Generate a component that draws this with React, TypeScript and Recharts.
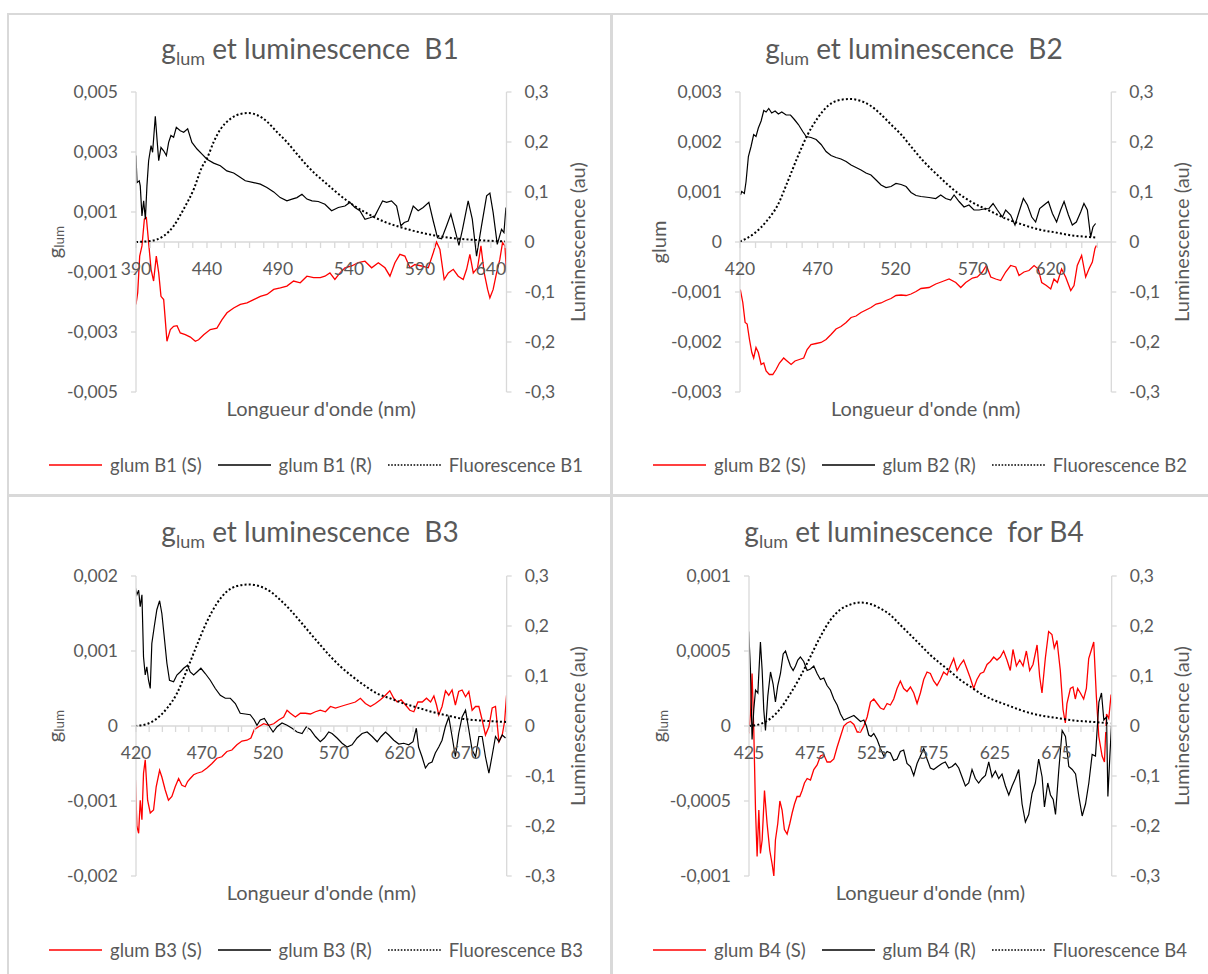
import React from 'react';
import { LineChart, Line, XAxis, YAxis, ReferenceLine, Legend } from 'recharts';

type Pt = [number, number];

// ---------- B1 ----------
const B1_X_TICKS = [390, 400, 410, 420, 430, 440, 450, 460, 470, 480, 490, 500, 510, 520, 530, 540, 550, 560, 570, 580, 590, 600, 610, 620, 630, 640, 650];
const B1_X_LABELS = [390, 440, 490, 540, 590, 640];
const B1_Y_TICKS = [-0.005, -0.003, -0.001, 0.001, 0.003, 0.005];
const B1_S: Pt[] = [[390,-0.00208],[391.2,-0.00169],[392.6,-0.00047],[394.2,-0.00013],[395.9,0.00076],[397.3,0.00081],[398.9,-0.00002],[400.6,-0.00091],[402.4,-0.0013],[404.3,-0.00047],[406,-0.00103],[407.6,-0.00181],[409.5,-0.00192],[411.8,-0.00331],[414.2,-0.00292],[416.5,-0.00281],[418.9,-0.00279],[421.2,-0.00303],[424.7,-0.00309],[428.3,-0.00317],[431.8,-0.00331],[434.1,-0.00326],[437.7,-0.00309],[442.3,-0.00292],[447,-0.00287],[450.6,-0.00259],[454.1,-0.00236],[458.8,-0.0022],[463.5,-0.00208],[468.2,-0.00203],[472.9,-0.00192],[477.6,-0.00181],[482.3,-0.00175],[487,-0.00158],[491.7,-0.00153],[496.3,-0.00147],[501,-0.0013],[505.7,-0.00136],[510.4,-0.00114],[515.1,-0.00119],[519.8,-0.00119],[523.1,-0.00114],[526.6,-0.00103],[530.1,-0.00125],[533.7,-0.00103],[537.2,-0.00086],[541.9,-0.0008],[546.6,-0.00069],[551.3,-0.00064],[556,-0.00086],[560.7,-0.00069],[565.4,-0.00086],[568.9,-0.00114],[572.4,-0.00069],[575.9,-0.00041],[579.4,-0.00047],[583,-0.00086],[586.5,-0.00075],[591.2,-0.0008],[595.9,-0.00086],[599.4,-0.00036],[601.7,0],[604.1,-0.00025],[607.1,-0.00125],[610,-0.00103],[613.5,-0.00091],[617,-0.00114],[620.5,-0.00125],[622.9,-0.00091],[625.2,-0.00041],[627.6,-0.00103],[630.6,-0.00086],[633,-0.00013],[635.3,-0.00103],[637.7,-0.00158],[639.3,-0.00186],[641.6,-0.00158],[644,-0.00103],[646.3,-0.00058],[648.2,-0.00002],[649.9,-0.00013],[651,-0.00103]];
const B1_R: Pt[] = [[390,0.00288],[390.7,0.00198],[392.3,0.00204],[393,0.00187],[394.2,0.00087],[395.4,0.00137],[396.6,0.00076],[397.7,0.00187],[398.9,0.00271],[400.6,0.00321],[401.7,0.00299],[403.6,0.00419],[404.8,0.00343],[406,0.00271],[407.6,0.00315],[409.5,0.00304],[411.4,0.00288],[413,0.00332],[414.6,0.00355],[416.5,0.00349],[418.4,0.00382],[421.2,0.00371],[423.6,0.00366],[426.4,0.00377],[429.4,0.00332],[433,0.0031],[436.5,0.00293],[440,0.00276],[444.7,0.00263],[449.4,0.00254],[454,0.00237],[458.8,0.0023],[462.3,0.00219],[467,0.00204],[472.9,0.00198],[477.6,0.00193],[482.2,0.00182],[487,0.00167],[491.6,0.00148],[496.3,0.00137],[499.9,0.00143],[503.4,0.00148],[506.9,0.00159],[510.4,0.00143],[514,0.00137],[518.4,0.00135],[523.1,0.00126],[527.8,0.00104],[532.5,0.00115],[537.2,0.0012],[540.7,0.00132],[544.2,0.00115],[547.7,0.00104],[551.3,0.00076],[554.8,0.00081],[558.3,0.00087],[560.7,0.00109],[563.7,0.00137],[566.5,0.00132],[570,0.00137],[573.6,0.0012],[576.6,0.00054],[579,0.00065],[581.8,0.0007],[585.3,0.0012],[588.8,0.00104],[592.3,0.00115],[596.3,0.00132],[599.4,0.0007],[602.4,0.00014],[605.3,0.00011],[608.8,0.00054],[611.8,0.00093],[614.6,0.00042],[617.5,-0.00011],[620,0.00042],[624,0.00137],[626.9,0.00076],[629.9,-0.00047],[633.4,0.00054],[637,0.00154],[639.3,0.00163],[641.6,0.00098],[644.5,-0.00008],[647.5,0.00042],[649.2,0.00031],[650.6,0.00115]];
const B1_F: Pt[] = [[390,0],[400,0.002],[409.5,0.012],[416.5,0.032],[423.6,0.066],[430.6,0.105],[436.5,0.15],[440,0.167],[444.7,0.2],[449.4,0.225],[456.4,0.246],[463.5,0.256],[469.3,0.258],[475.2,0.254],[482.2,0.241],[489.3,0.22],[496.3,0.2],[503.4,0.176],[510.4,0.153],[517.5,0.133],[523.3,0.119],[530.1,0.102],[541.9,0.076],[553.6,0.056],[565.4,0.04],[577.1,0.029],[588.8,0.02],[600.6,0.013],[612.3,0.008],[624,0.005],[635.8,0.003],[649.9,0.001]];

// ---------- B2 ----------
const B2_X_TICKS = [420, 430, 440, 450, 460, 470, 480, 490, 500, 510, 520, 530, 540, 550, 560, 570, 580, 590, 600, 610, 620, 630, 640, 650];
const B2_X_LABELS = [420, 470, 520, 570, 620];
const B2_Y_TICKS = [-0.003, -0.002, -0.001, 0, 0.001, 0.002, 0.003];
const B2_S: Pt[] = [[420.2,-0.00095],[421.8,-0.00121],[423.3,-0.00161],[424.6,-0.00164],[426.1,-0.00195],[427.6,-0.00221],[428.8,-0.00232],[430.3,-0.00211],[431.8,-0.00221],[433.6,-0.00245],[435.3,-0.00242],[436.8,-0.00258],[438.9,-0.00265],[441.1,-0.00265],[443.2,-0.00255],[445.4,-0.00242],[448.1,-0.00232],[450.3,-0.00238],[452.9,-0.00245],[455.4,-0.00238],[458.2,-0.00235],[461,-0.00232],[463.2,-0.00215],[465.7,-0.00205],[469,-0.00203],[472.2,-0.00201],[475.4,-0.00195],[478.6,-0.00185],[481.8,-0.00174],[485,-0.00169],[488.3,-0.00161],[491.5,-0.00151],[494.7,-0.00148],[497.9,-0.00141],[501.1,-0.00136],[504.3,-0.00131],[507.6,-0.00124],[510.8,-0.00122],[514,-0.00117],[517.2,-0.00113],[520.4,-0.00107],[523.7,-0.00106],[526.9,-0.00107],[530.1,-0.00104],[533.3,-0.00099],[536.5,-0.00093],[541.7,-0.00091],[546,-0.00084],[550.3,-0.00079],[554.6,-0.00074],[558.9,-0.00081],[562.1,-0.00091],[565.3,-0.00081],[569.6,-0.00072],[572.8,-0.0007],[576,-0.0006],[578.6,-0.00047],[581.4,-0.0007],[584.6,-0.00074],[587.8,-0.00077],[591,-0.0006],[594.2,-0.00047],[597.5,-0.0005],[599.6,-0.00067],[602.8,-0.0006],[606,-0.00057],[609.3,-0.00047],[612,-0.00054],[614.2,-0.00081],[617.2,-0.00087],[620,-0.00094],[622.1,-0.00074],[624.3,-0.00081],[627,-0.00054],[629.6,-0.0007],[632.9,-0.00097],[635,-0.00087],[637.1,-0.00047],[639.9,-0.00027],[642.5,-0.0007],[644.6,-0.00054],[646.8,-0.0004],[648.5,-0.00013],[649.4,-0.00007]];
const B2_R: Pt[] = [[420.3,0.00094],[421.1,0.00101],[422.8,0.00097],[423.9,0.00121],[425.4,0.00171],[427.1,0.00191],[428.8,0.00215],[430.3,0.00211],[431.8,0.00228],[433.6,0.00242],[435.3,0.00263],[436.8,0.0026],[438.5,0.00267],[440.4,0.00258],[442.6,0.00262],[444.7,0.00256],[446.9,0.0026],[449.7,0.00254],[452.5,0.00254],[455,0.00245],[457.6,0.00235],[460.4,0.00221],[462.6,0.00211],[465.7,0.00209],[469,0.00205],[472.2,0.00195],[475.4,0.00181],[478.6,0.00173],[481.8,0.00169],[485,0.00166],[488.3,0.00161],[491.5,0.00154],[494.7,0.00149],[497.9,0.00144],[501.1,0.00138],[504.3,0.00134],[507.6,0.00124],[510.8,0.00114],[514,0.00109],[517.2,0.00111],[520.4,0.00117],[523.7,0.00115],[526.9,0.00111],[530.1,0.00099],[533.3,0.00093],[536.5,0.00091],[541.7,0.00089],[546,0.00087],[549.2,0.00094],[552.4,0.00087],[555.6,0.00084],[557.8,0.00094],[561,0.00081],[564.2,0.0007],[567.4,0.00074],[570.6,0.00064],[573.9,0.00064],[577.1,0.00066],[580.3,0.00067],[582.9,0.00077],[585.7,0.00064],[588.9,0.0005],[591,0.00064],[594.2,0.00054],[597,0.00034],[599.6,0.0006],[602.4,0.00087],[605,0.00074],[607.8,0.0005],[610.3,0.0004],[612.9,0.00067],[615.7,0.00074],[618.5,0.00081],[621.1,0.00057],[623.8,0.0004],[626.4,0.00064],[628.6,0.00081],[631.4,0.00054],[633.9,0.00034],[636.5,0.0004],[639.3,0.0006],[641.4,0.00077],[643.6,0.00064],[645.7,0.0001],[647.2,0.0003],[648.9,0.00037]];
const B2_F: Pt[] = [[420,0.001],[429.1,0.017],[437.7,0.044],[444.3,0.074],[450.7,0.121],[457.2,0.171],[463.6,0.215],[470,0.248],[476.5,0.272],[482.9,0.283],[490.4,0.286],[497.9,0.282],[504.3,0.272],[510.8,0.255],[517.2,0.235],[523.7,0.215],[530.1,0.191],[537.4,0.164],[548.1,0.131],[558.9,0.101],[569.6,0.079],[580.3,0.063],[591,0.047],[601.7,0.035],[612.5,0.025],[623.2,0.019],[633.9,0.013],[644.6,0.01],[648.9,0.009]];

// ---------- B3 ----------
const B3_X_TICKS = [420, 430, 440, 450, 460, 470, 480, 490, 500, 510, 520, 530, 540, 550, 560, 570, 580, 590, 600, 610, 620, 630, 640, 650, 660, 670, 680, 690, 700];
const B3_X_LABELS = [420, 470, 520, 570, 620, 670];
const B3_Y_TICKS = [-0.002, -0.001, 0, 0.001, 0.002];
const B3_S: Pt[] = [[419.6,-0.00072],[420.7,-0.00134],[422,-0.00143],[423.2,-0.00099],[424.5,-0.00125],[425.7,-0.00063],[427,-0.00045],[428.8,-0.00099],[430.8,-0.00116],[433.3,-0.00112],[435.3,-0.00081],[437.9,-0.00059],[439.6,-0.00068],[442.1,-0.00085],[444.6,-0.00099],[447.2,-0.00094],[449.7,-0.00081],[452.3,-0.0007],[454.8,-0.00079],[457.3,-0.00081],[459.1,-0.00074],[461.1,-0.0007],[463.7,-0.00065],[466.2,-0.00063],[470,-0.00061],[473.8,-0.00056],[477.6,-0.0005],[481.3,-0.00043],[485.1,-0.00041],[488.9,-0.00034],[492.7,-0.00032],[496.5,-0.00025],[500.3,-0.0002],[504.1,-0.00019],[507.1,-0.00016],[509.6,-0.00005],[512.9,-0.00001],[516.8,0.00003],[520.5,0.00001],[524.4,0.00003],[528.1,0.00008],[531.9,0.00012],[534.5,0.00021],[537,0.00017],[540.8,0.00012],[544.6,0.00017],[548.4,0.00017],[552.2,0.00016],[556,0.00019],[559.7,0.00021],[563.6,0.00019],[567.4,0.00026],[571.2,0.00024],[575,0.00026],[578.7,0.00028],[582.6,0.0003],[586.3,0.00032],[590.1,0.00037],[593.9,0.0003],[597.7,0.00026],[601.5,0.0003],[605.3,0.00035],[609.1,0.00041],[612.4,0.00047],[615.4,0.00037],[618,0.00032],[621,0.00035],[624.3,0.00028],[627.6,0.00021],[630.6,0.00019],[633.7,0.00032],[637,0.00032],[640.2,0.00037],[643.3,0.00032],[645.8,0.0004],[647.8,0.00028],[649.5,0.00015],[652,0.00026],[654.6,0.00047],[657.1,0.00041],[659.6,0.00048],[662.1,0.00028],[664.6,0.00046],[667.2,0.00048],[669.8,0.00039],[672.3,0.00046],[674.8,0.00021],[677.4,0.00026],[679.9,0.00026],[682.4,0.00008],[684.9,-0.00012],[687.5,-0.00001],[690,0.00024],[692.5,0.00026],[695.1,-0.00021],[697.6,-0.00012],[699.4,0.00006],[700.9,0.00041]];
const B3_R: Pt[] = [[419.6,0.00184],[420.7,0.00175],[422,0.00181],[423.2,0.00159],[424.5,0.00175],[425.7,0.00092],[427,0.00068],[428.2,0.00079],[429.5,0.00061],[430.8,0.0005],[432,0.0011],[433.8,0.00132],[435.8,0.00155],[437.9,0.00167],[439.6,0.0015],[441.4,0.00119],[443.4,0.00084],[445.4,0.00061],[448.5,0.00059],[451,0.00068],[453.5,0.00072],[456.1,0.00077],[459.1,0.00081],[461.1,0.00072],[463.7,0.00068],[466.2,0.00072],[469.2,0.00077],[472.5,0.0007],[476.3,0.00061],[480.1,0.0005],[483.9,0.00041],[487.7,0.00037],[491.5,0.00037],[495.3,0.0003],[499,0.00017],[502.8,0.00016],[506.6,0.00015],[509.6,0.00008],[511.7,0.00001],[514.2,0.00008],[517.3,0.0001],[520.5,0.00001],[523.9,-0.00008],[526.9,-0.00001],[530.7,0.00004],[534.5,0.00001],[538.3,-0.00003],[542.1,-0.00008],[545.9,-0.0001],[549.1,-0.00001],[552.2,-0.00005],[556,-0.00014],[559.7,-0.00021],[562.8,-0.00016],[566.1,-0.00008],[568.6,-0.0001],[572.4,-0.00016],[576.2,-0.00023],[580,-0.00028],[583.8,-0.00025],[587.6,-0.00016],[591.4,-0.0001],[595.2,-0.00008],[599,-0.00014],[602.8,-0.00021],[605.8,-0.00014],[609.1,-0.00008],[611.6,-0.00012],[615.4,-0.00019],[619.2,-0.00024],[622.9,-0.00023],[626.7,-0.00025],[630,-0.00021],[632.5,-0.00003],[634.2,-0.00028],[636.8,-0.00041],[639.4,-0.00056],[641.9,-0.0005],[644.4,-0.00048],[646.9,-0.00036],[649.5,-0.00028],[652,-0.00019],[654.5,-0.00001],[657.1,0.00012],[659.6,-0.00014],[662.1,-0.00041],[664.6,-0.0001],[667.2,0.00012],[669.8,0.00021],[672.3,-0.00005],[674.8,-0.00032],[677.4,-0.00041],[679.9,-0.00014],[682.4,-0.00014],[684.9,-0.00041],[687.5,-0.00063],[690,-0.00039],[692.5,-0.00014],[695.1,-0.00021],[697.6,-0.00012],[700.1,-0.00016]];
const B3_F: Pt[] = [[419.4,0],[428.2,0.004],[435.8,0.015],[443.4,0.035],[451,0.065],[458.6,0.112],[466.2,0.162],[473.8,0.209],[481.3,0.245],[488.9,0.269],[496.5,0.28],[505.4,0.283],[514.2,0.279],[521.8,0.269],[529.4,0.252],[537,0.232],[544.6,0.209],[552.2,0.185],[559.7,0.162],[567.4,0.139],[575,0.119],[582.6,0.102],[592.7,0.082],[602.8,0.065],[612.9,0.055],[623,0.045],[633.1,0.037],[643.2,0.029],[655.9,0.021],[668.5,0.014],[681.1,0.011],[693.8,0.009],[700.9,0.008]];

// ---------- B4 ----------
const B4_X_TICKS = [425, 435, 445, 455, 465, 475, 485, 495, 505, 515, 525, 535, 545, 555, 565, 575, 585, 595, 605, 615, 625, 635, 645, 655, 665, 675, 685, 695, 705, 715];
const B4_X_LABELS = [425, 475, 525, 575, 625, 675];
const B4_Y_TICKS = [-0.001, -0.0005, 0, 0.0005, 0.001];
const B4_S: Pt[] = [[424.8,-0.00005],[426.2,0.00008],[427.5,0.00035],[428.9,-0.00003],[430.3,-0.00056],[431.6,-0.00087],[433,-0.00056],[434.3,-0.00085],[435.7,-0.00076],[437.6,-0.00043],[439.7,-0.00065],[441.9,-0.00083],[443.8,-0.00092],[445.2,-0.001],[446.5,-0.00076],[448.4,-0.00065],[450.1,-0.0005],[451.9,-0.00056],[453.8,-0.00069],[456,-0.00072],[458.2,-0.00065],[460.1,-0.00058],[462,-0.00052],[464.1,-0.00047],[466.3,-0.00047],[468.2,-0.00043],[470.1,-0.00038],[472.3,-0.00035],[475,-0.00036],[477.7,-0.00029],[480.4,-0.00026],[483.1,-0.0002],[485.8,-0.00019],[488.5,-0.00024],[491.2,-0.00024],[494,-0.00022],[496.7,-0.00014],[499.4,-0.00007],[502.1,0],[504.8,0.00002],[507.5,0.00003],[510.3,0.00001],[513,-0.00004],[515.7,-0.00004],[518.4,0],[521.1,0.00006],[523.8,0.00016],[526.5,0.00018],[529.2,0.00015],[531.9,0.00012],[534.6,0.00011],[537.3,0.00015],[540,0.00014],[542.7,0.00018],[545.4,0.00025],[548.1,0.0003],[550.8,0.00025],[553.5,0.00023],[556.3,0.00026],[559,0.00022],[561.7,0.00015],[564.4,0.00022],[567.1,0.00031],[569.8,0.00036],[572.5,0.00035],[575.2,0.0003],[577.9,0.00027],[580.6,0.00031],[583.3,0.00036],[586.1,0.00034],[588.8,0.0004],[591.5,0.00045],[594.2,0.00037],[596.9,0.00041],[599.6,0.00044],[602.3,0.00038],[605,0.00032],[607.7,0.00025],[610.4,0.00031],[613.2,0.00035],[615.9,0.00036],[618.6,0.00041],[621.3,0.00043],[624,0.00046],[626.7,0.00044],[629.4,0.00046],[632.1,0.0005],[634.8,0.00044],[637.5,0.00037],[639.7,0.00051],[642.5,0.0004],[645.2,0.00044],[647.9,0.0004],[650.6,0.0005],[653.3,0.00037],[656,0.00041],[659.3,0.00054],[661.4,0.00033],[663.3,0.00022],[666,0.00045],[668.7,0.00063],[671.4,0.00061],[673.3,0.00052],[675.5,0.00057],[678.2,0.00037],[680.4,0.00011],[682.3,0.00002],[683.6,0.00015],[686.4,0.00025],[688.5,0.00026],[690.4,0.00018],[692.3,0.00025],[694.5,0.00022],[697.2,0.00018],[699.4,0.00025],[701.3,0.00045],[703.2,0.0005],[705.4,0.00056],[707.5,0.0002],[709.5,-0.00007],[712.2,-0.0002],[714.1,-0.00024],[715.8,0.00008],[717.6,0.00005],[719.5,0.00021]];
const B4_R: Pt[] = [[424.8,0.00063],[426.2,0.00037],[427.5,-0.00009],[428.9,0.00011],[430.3,0.00024],[432.2,0.00022],[434.3,0.00056],[435.7,0.00037],[437,0.00011],[438.4,-0.00003],[440.3,0.0002],[442.5,0.00036],[444.6,0.00028],[446.5,0.00016],[448.4,0.00027],[450.6,0.00035],[452.8,0.00048],[454.7,0.0005],[456.6,0.00045],[458.7,0.0004],[460.9,0.00037],[462.8,0.0004],[464.7,0.00044],[466.8,0.00046],[469.5,0.00043],[472.3,0.00037],[475,0.00038],[477.7,0.0004],[480.4,0.00035],[483.1,0.00031],[485.8,0.00032],[488.5,0.00027],[491.2,0.00024],[494,0.00018],[496.7,0.00014],[499.4,0.00008],[502.1,0.00004],[504.8,0.00005],[507.5,0.00006],[510.3,0.00007],[513,0.00005],[515.7,0.00003],[518.4,0.00004],[520.5,0],[522.4,-0.00006],[524.3,-0.00007],[526.5,-0.00005],[529.2,-0.00009],[531.9,-0.00015],[534.6,-0.0002],[537.3,-0.00017],[540,-0.00018],[542.7,-0.00023],[545.4,-0.00022],[548.1,-0.00017],[550.8,-0.00016],[553.5,-0.00025],[556.3,-0.00027],[559,-0.00033],[561.7,-0.00025],[564.4,-0.0002],[567.1,-0.00015],[569.8,-0.00022],[572.5,-0.00028],[575.2,-0.00029],[578.5,-0.00027],[582,-0.00025],[584.7,-0.00024],[587.4,-0.00028],[590.2,-0.00027],[592.9,-0.00025],[595.6,-0.00028],[598.3,-0.00034],[601,-0.0004],[603.7,-0.00038],[606.4,-0.00029],[609.1,-0.00035],[611.8,-0.00038],[614.6,-0.00035],[617.3,-0.00033],[620,-0.00024],[622.7,-0.00034],[625.4,-0.0003],[628.1,-0.00035],[630.8,-0.00032],[633.6,-0.0004],[636.3,-0.00046],[639,-0.0004],[641.7,-0.00035],[644.4,-0.00029],[647.1,-0.00052],[649.8,-0.00064],[652.5,-0.00059],[655.2,-0.00045],[657.9,-0.00038],[660.6,-0.00022],[663.4,-0.00034],[665.3,-0.00054],[668,-0.00038],[670.2,-0.00046],[672.4,-0.00049],[674.3,-0.00059],[677,-0.00029],[679.7,-0.00003],[682.4,-0.00007],[685.1,-0.00027],[687.9,-0.00029],[690.6,-0.00032],[693.3,-0.00047],[696,-0.0006],[698.7,-0.00052],[701.4,-0.00038],[704.1,-0.00019],[706.8,-0.0002],[709.6,0.00016],[711.7,0.00022],[713.6,0.00004],[715.8,0.00006],[716.9,-0.00047],[718.5,-0.0002],[719.8,0]];
const B4_F: Pt[] = [[425,0],[434.3,0.004],[442.5,0.015],[450.6,0.035],[458.7,0.065],[466.8,0.099],[475,0.139],[483.1,0.179],[491.2,0.212],[499.4,0.233],[507.5,0.243],[515.7,0.247],[523.8,0.244],[531.9,0.235],[540,0.222],[548.1,0.202],[556.3,0.182],[564.4,0.162],[572.5,0.142],[580.6,0.125],[588.8,0.109],[596.9,0.092],[605,0.079],[613.2,0.065],[624,0.052],[634.8,0.042],[645.7,0.032],[656.5,0.024],[667.3,0.019],[678.2,0.015],[689,0.011],[699.8,0.009],[710.7,0.007],[718.8,0.005]];

const LUM_TICKS = [-0.3, -0.2, -0.1, 0, 0.1, 0.2, 0.3];

// ---------- styling ----------
const FONT = 'Lato, "Open Sans", sans-serif';
const TXT = '#595959';
const AXIS = '#d9d9d9';
const BORDER = '#d9d9d9';
const RED = '#ff0000';
const BLACK = '#000000';
const DOTS = '2 2.2';

interface PanelCfg {
  name: string;
  titleRest: string;
  left: number;
  top: number;
  height: number;
  plotLeft: number;
  plotRight: number;
  plotTop: number;
  plotH: number;
  xDomain: [number, number];
  xTicks: number[];
  xLabels: number[];
  yDomain: [number, number];
  yTicks: number[];
  subLabel: boolean;
  s: Pt[];
  r: Pt[];
  f: Pt[];
}

const PANELS: PanelCfg[] = [
  { name: 'B1', titleRest: ' et luminescence  B1', left: 8, top: 14, height: 482, plotLeft: 128, plotRight: 498.5, plotTop: 78, plotH: 300,
    xDomain: [390, 651], xTicks: B1_X_TICKS, xLabels: B1_X_LABELS, yDomain: [-0.005, 0.005], yTicks: B1_Y_TICKS, subLabel: true, s: B1_S, r: B1_R, f: B1_F },
  { name: 'B2', titleRest: ' et luminescence  B2', left: 612, top: 14, height: 482, plotLeft: 128, plotRight: 499.3, plotTop: 78, plotH: 300,
    xDomain: [420, 659], xTicks: B2_X_TICKS, xLabels: B2_X_LABELS, yDomain: [-0.003, 0.003], yTicks: B2_Y_TICKS, subLabel: false, s: B2_S, r: B2_R, f: B2_F },
  { name: 'B3', titleRest: ' et luminescence  B3', left: 8, top: 497, height: 477, plotLeft: 128, plotRight: 498.7, plotTop: 79, plotH: 300,
    xDomain: [420, 701], xTicks: B3_X_TICKS, xLabels: B3_X_LABELS, yDomain: [-0.002, 0.002], yTicks: B3_Y_TICKS, subLabel: true, s: B3_S, r: B3_R, f: B3_F },
  { name: 'B4', titleRest: ' et luminescence  for B4', left: 612, top: 497, height: 477, plotLeft: 137, plotRight: 499.7, plotTop: 79, plotH: 300,
    xDomain: [425, 720], xTicks: B4_X_TICKS, xLabels: B4_X_LABELS, yDomain: [-0.001, 0.001], yTicks: B4_Y_TICKS, subLabel: true, s: B4_S, r: B4_R, f: B4_F },
];

const toRows = (pts: Pt[]) => pts.map(([x, y]) => ({ x, y }));
const comma = (v: number) => String(v).replace('.', ',');

const W = 604;
const AXW = 60;
const XAH = 30;

function LegendContent(props: any) {
  const payload: any[] = props.payload || [];
  const order = (v: string) => (v.includes('(S)') ? 0 : v.includes('(R)') ? 1 : 2);
  const items = [...payload].sort((a, b) => order(String(a.value)) - order(String(b.value)));
  return (
    <div style={{ display: 'flex', justifyContent: 'center', alignItems: 'center', fontFamily: FONT, fontSize: 18.5, color: TXT, lineHeight: '22px', whiteSpace: 'nowrap' }}>
      {items.map((e, i) => {
        const dashed = String(e.value).startsWith('Fluo');
        return (
          <span key={i} style={{ display: 'inline-flex', alignItems: 'center', marginLeft: i === 0 ? 0 : 16 }}>
            <svg width={53} height={6} style={{ display: 'block' }}>
              <line x1={0} x2={53} y1={3} y2={3} stroke={e.color} strokeWidth={dashed ? 1.6 : 1.3} strokeDasharray={dashed ? '1.6 1.6' : undefined} />
            </svg>
            <span style={{ marginLeft: 8 }}>{e.value}</span>
          </span>
        );
      })}
    </div>
  );
}

function Panel({ cfg }: { cfg: PanelCfg }) {
  const marginBottom = cfg.height - cfg.plotTop - cfg.plotH - XAH;
  const zeroY = cfg.plotTop + cfg.plotH / 2;
  const midY = cfg.plotTop + cfg.plotH / 2;
  const XTick = (props: any) => {
    const { x, payload } = props;
    const v = payload.value as number;
    return (
      <g>
        <line x1={x} x2={x} y1={zeroY} y2={zeroY + 6} stroke={AXIS} strokeWidth={1.3} />
        {cfg.xLabels.includes(v) && (
          <text x={x} y={zeroY + 33} textAnchor="middle" fill={TXT} fontSize={17.5} fontFamily={FONT}>{v}</text>
        )}
      </g>
    );
  };
  const plotCx = (cfg.plotLeft + cfg.plotRight) / 2;
  return (
    <div style={{ position: 'absolute', left: cfg.left, top: cfg.top, width: W, height: cfg.height }}>
      <div style={{ position: 'absolute', left: 0, top: 17, width: W, textAlign: 'center', fontFamily: FONT, fontSize: 28, color: TXT, whiteSpace: 'pre', lineHeight: '34px' }}>
        g<span style={{ fontSize: 18, position: 'relative', top: 6 }}>lum</span>{cfg.titleRest}
      </div>
      <LineChart width={W} height={cfg.height} margin={{ top: cfg.plotTop, right: W - cfg.plotRight - AXW, bottom: marginBottom, left: cfg.plotLeft - AXW }}>
        <XAxis xAxisId="x" type="number" dataKey="x" domain={cfg.xDomain} ticks={cfg.xTicks} interval={0} allowDataOverflow
          axisLine={false} tickLine={false} tick={XTick} height={XAH}
          label={{ content: () => (
            <text x={plotCx} y={cfg.plotTop + cfg.plotH + 24} textAnchor="middle" fill={TXT} fontSize={20} fontFamily={FONT}>Longueur d'onde (nm)</text>
          ) }} />
        <YAxis yAxisId="left" type="number" domain={cfg.yDomain} ticks={cfg.yTicks} interval={0} allowDataOverflow width={AXW}
          axisLine={{ stroke: AXIS, strokeWidth: 1.3 }} tickLine={{ stroke: AXIS, strokeWidth: 1.3 }} tickSize={5} tickMargin={13}
          tick={{ fill: TXT, fontSize: 17.5, fontFamily: FONT }} tickFormatter={comma}
          label={{ content: () => (
            <text x={46} y={midY} transform={`rotate(-90 46 ${midY})`} textAnchor="middle" dominantBaseline="central" fill={TXT} fontSize={20} fontFamily={FONT}>
              {cfg.subLabel ? (<><tspan>g</tspan><tspan fontSize={13.5} dy={5}>lum</tspan></>) : 'glum'}
            </text>
          ) }} />
        <YAxis yAxisId="right" orientation="right" type="number" domain={[-0.3, 0.3]} ticks={LUM_TICKS} interval={0} allowDataOverflow width={AXW}
          axisLine={{ stroke: AXIS, strokeWidth: 1.3 }} tickLine={{ stroke: AXIS, strokeWidth: 1.3 }} tickSize={5} tickMargin={13}
          tick={{ fill: TXT, fontSize: 17.5, fontFamily: FONT }} tickFormatter={comma}
          label={{ content: () => (
            <text x={569} y={midY} transform={`rotate(-90 569 ${midY})`} textAnchor="middle" dominantBaseline="central" fill={TXT} fontSize={20} fontFamily={FONT}>Luminescence (au)</text>
          ) }} />
        <ReferenceLine xAxisId="x" yAxisId="left" y={0} stroke={AXIS} strokeWidth={1.3} />
        <Line xAxisId="x" yAxisId="left" data={toRows(cfg.s)} dataKey="y" name={`glum ${cfg.name} (S)`} type="linear" stroke={RED} strokeWidth={1.3} dot={false} activeDot={false} isAnimationActive={false} />
        <Line xAxisId="x" yAxisId="left" data={toRows(cfg.r)} dataKey="y" name={`glum ${cfg.name} (R)`} type="linear" stroke={BLACK} strokeWidth={1.2} dot={false} activeDot={false} isAnimationActive={false} />
        <Line xAxisId="x" yAxisId="right" data={toRows(cfg.f)} dataKey="y" name={`Fluorescence ${cfg.name}`} type="monotone" stroke={BLACK} strokeWidth={2} strokeDasharray={DOTS} dot={false} activeDot={false} isAnimationActive={false} />
        <Legend verticalAlign="middle" align="center" layout="horizontal" content={LegendContent}
          wrapperStyle={{ top: cfg.height === 482 ? 440 : 442, left: 6, width: W }} />
      </LineChart>
    </div>
  );
}

export default function App() {
  return (
    <div style={{ position: 'absolute', left: 0, top: 0, width: 1208, height: 974, background: '#ffffff', overflow: 'hidden' }}>
      {PANELS.map((p) => (
        <Panel key={p.name} cfg={p} />
      ))}
      <div style={{ position: 'absolute', left: 7, top: 13, width: 1201, height: 2, background: BORDER }} />
      <div style={{ position: 'absolute', left: 7, top: 494, width: 1201, height: 3, background: BORDER }} />
      <div style={{ position: 'absolute', left: 7, top: 13, width: 2, height: 961, background: BORDER }} />
      <div style={{ position: 'absolute', left: 610, top: 13, width: 3, height: 961, background: BORDER }} />
    </div>
  );
}
